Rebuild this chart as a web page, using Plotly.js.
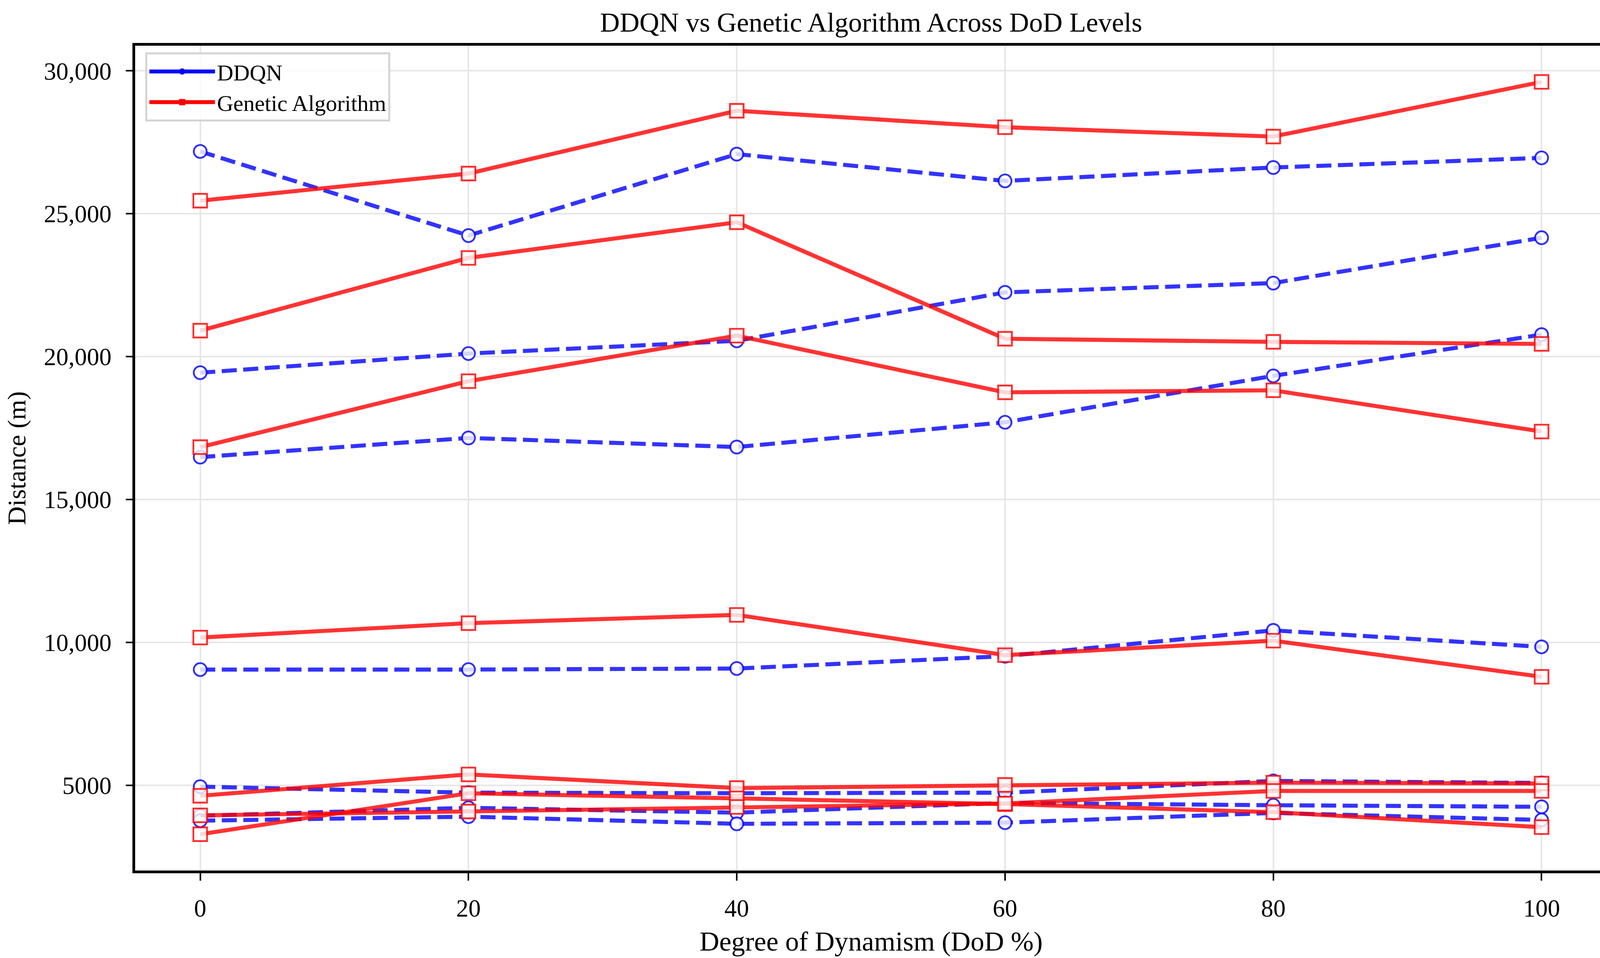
<!DOCTYPE html>
<html>
<head>
<meta charset="utf-8">
<script src="https://cdn.plot.ly/plotly-3.0.1.min.js"></script>
<style>
html,body{margin:0;padding:0;background:#ffffff;}
#chart{width:4142px;height:2453px;}
</style>
</head>
<body>
<div id="chart"></div>
<script>
// ---- data ----
const dod = [0, 20, 40, 60, 80, 100];

const ddqn1 = [27180, 24237, 27087, 26149, 26618, 26954];
const ddqn2 = [19437, 20107, 20552, 22248, 22573, 24161];
const ddqn3 = [16483, 17154, 16836, 17702, 19326, 20769];
const ddqn4 = [9048, 9048, 9084, 9517, 10419, 9842];
const ddqn5 = [4950, 4740, 4720, 4740, 5150, 5080];
const ddqn6 = [3930, 4210, 4040, 4380, 4300, 4245];
const ddqn7 = [3760, 3900, 3650, 3690, 4030, 3784];

const ga1 = [25457, 26406, 28604, 28027, 27702, 29613];
const ga2 = [20909, 23453, 24702, 20625, 20516, 20444];
const ga3 = [16832, 19140, 20733, 18749, 18821, 17378];
const ga4 = [10167, 10672, 10961, 9553, 10058, 8795];
const ga5 = [4630, 5378, 4900, 5010, 5090, 5060];
const ga6 = [3285, 4718, 4540, 4340, 4057, 3532];
const ga7 = [3945, 4080, 4240, 4360, 4800, 4800];

const xTickVals = [0, 20, 40, 60, 80, 100];
const xTickText = ['0', '20', '40', '60', '80', '100'];
const yTickVals = [5000, 10000, 15000, 20000, 25000, 30000];
const yTickText = ['5000', '10,000', '15,000', '20,000', '25,000', '30,000'];

const ddqnSeries = [ddqn1, ddqn2, ddqn3, ddqn4, ddqn5, ddqn6, ddqn7];
const gaSeries = [ga1, ga2, ga3, ga4, ga5, ga6, ga7];

// ---- styles ----
const BLUE_LINE = 'rgba(0,0,255,0.8)';
const RED_LINE = 'rgba(255,0,0,0.8)';
const FILL = 'rgba(255,255,255,0.8)';
const SERIF = '"Liberation Serif", "Times New Roman", Times, serif';

const traces = [];
// legend-only handles (filled markers, as in the reference legend)
traces.push({
  x: [null], y: [null], name: 'DDQN', mode: 'lines+markers',
  line: {color: 'blue', width: 10},
  marker: {symbol: 'circle', size: 16, color: 'blue'},
  hoverinfo: 'skip'
});
traces.push({
  x: [null], y: [null], name: 'Genetic Algorithm', mode: 'lines+markers',
  line: {color: 'red', width: 10},
  marker: {symbol: 'square', size: 16, color: 'red'},
  hoverinfo: 'skip'
});

ddqnSeries.forEach(function (s) {
  traces.push({
    x: dod, y: s, mode: 'lines+markers', showlegend: false, name: 'DDQN',
    line: {color: BLUE_LINE, width: 10.4, dash: '38.5px,16.7px'},
    marker: {symbol: 'circle', size: 33, color: FILL,
             line: {color: 'rgba(0,0,255,0.82)', width: 4.6}}
  });
});
gaSeries.forEach(function (s) {
  traces.push({
    x: dod, y: s, mode: 'lines+markers', showlegend: false, name: 'Genetic Algorithm',
    line: {color: RED_LINE, width: 10.4},
    marker: {symbol: 'square', size: 35, color: FILL,
             line: {color: 'rgba(255,0,0,0.82)', width: 4.6}}
  });
});

const layout = {
  width: 4142, height: 2453,
  paper_bgcolor: '#ffffff', plot_bgcolor: '#ffffff',
  margin: {l: 345.5, r: 27.5, t: 116.5, b: 223.5, pad: 0},
  font: {family: SERIF, color: '#000000'},
  showlegend: true,
  title: {
    text: 'DDQN vs Genetic Algorithm Across DoD Levels',
    font: {family: SERIF, size: 70, color: '#000000'},
    x: 0.5, xref: 'paper', xanchor: 'center',
    y: 1 - 56 / 2453, yref: 'container', yanchor: 'middle'
  },
  xaxis: {
    range: [-4.85, 104.88],
    tickmode: 'array', tickvals: xTickVals, ticktext: xTickText,
    showline: true, linecolor: '#000000', linewidth: 7, mirror: true,
    ticks: 'outside', ticklen: 19, tickwidth: 4, tickcolor: '#000000',
    ticklabelstandoff: 16,
    showgrid: true, gridcolor: '#e6e6e6', gridwidth: 4, zeroline: false,
    tickfont: {family: SERIF, size: 63, color: '#000000'},
    title: {text: 'Degree of Dynamism (DoD %)', font: {family: SERIF, size: 70, color: '#000000'}, standoff: 28}
  },
  yaxis: {
    range: [2015, 30881],
    tickmode: 'array', tickvals: yTickVals, ticktext: yTickText,
    showline: true, linecolor: '#000000', linewidth: 7, mirror: true,
    ticks: 'outside', ticklen: 17, tickwidth: 4, tickcolor: '#000000',
    ticklabelstandoff: 24,
    showgrid: true, gridcolor: '#e6e6e6', gridwidth: 4, zeroline: false,
    tickfont: {family: SERIF, size: 63, color: '#000000'},
    title: {text: 'Distance (m)', font: {family: SERIF, size: 66, color: '#000000'}, standoff: 28}
  },
  legend: {
    x: 0.007, y: 0.992, xanchor: 'left', yanchor: 'top',
    xref: 'paper', yref: 'paper',
    bgcolor: 'rgba(255,255,255,0.8)', bordercolor: '#d4d4d4', borderwidth: 5,
    font: {family: SERIF, size: 58, color: '#000000'},
    itemwidth: 168, tracegroupgap: 0
  }
};

Plotly.newPlot('chart', traces, layout, {staticPlot: true, displayModeBar: false});
</script>
</body>
</html>
